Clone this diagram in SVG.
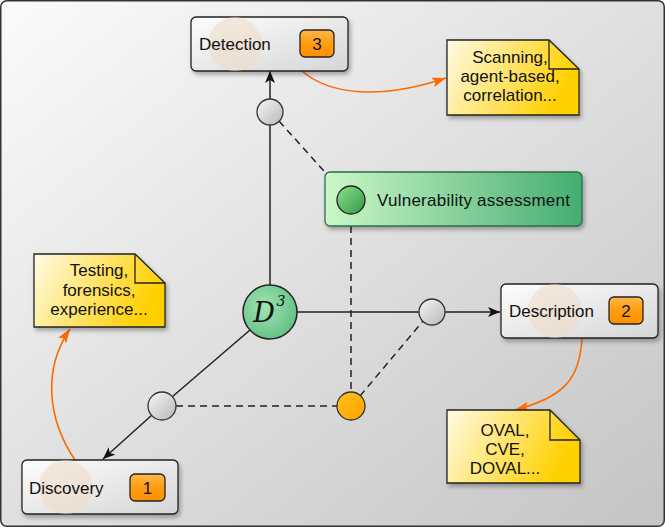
<svg xmlns="http://www.w3.org/2000/svg" width="665" height="527" viewBox="0 0 665 527">
<defs>
<linearGradient id="bg" x1="0" y1="0" x2="1" y2="1"><stop offset="0" stop-color="#fbfbfb"/><stop offset="1" stop-color="#c4c4c4"/></linearGradient>
<linearGradient id="box" x1="0" y1="0" x2="1" y2="1"><stop offset="0" stop-color="#fdfdfd"/><stop offset="1" stop-color="#d6d6d6"/></linearGradient>
<linearGradient id="note" x1="0" y1="0" x2="1" y2="0.3"><stop offset="0" stop-color="#fffbe6"/><stop offset="1" stop-color="#ffd000"/></linearGradient>
<linearGradient id="badge" x1="0" y1="0" x2="0" y2="1"><stop offset="0" stop-color="#ffb84a"/><stop offset="0.5" stop-color="#ff9c10"/><stop offset="1" stop-color="#ff9000"/></linearGradient>
<linearGradient id="va" x1="0" y1="0" x2="1" y2="0"><stop offset="0" stop-color="#ccf7c8"/><stop offset="1" stop-color="#45ad72"/></linearGradient>
<linearGradient id="gc" x1="0" y1="0" x2="1" y2="1"><stop offset="0" stop-color="#8fe08a"/><stop offset="1" stop-color="#2f9a45"/></linearGradient>
<linearGradient id="grey" x1="0" y1="0" x2="1" y2="1"><stop offset="0" stop-color="#f6f6f6"/><stop offset="1" stop-color="#b8b8b8"/></linearGradient>
<linearGradient id="orc" x1="0" y1="0" x2="1" y2="1"><stop offset="0" stop-color="#ffc21a"/><stop offset="1" stop-color="#ffa000"/></linearGradient>
<radialGradient id="d3" cx="0.4" cy="0.4" r="0.7"><stop offset="0" stop-color="#a2e2b2"/><stop offset="1" stop-color="#5cbf80"/></radialGradient>
<filter id="sh" x="-10%" y="-10%" width="130%" height="140%"><feDropShadow dx="2" dy="3" stdDeviation="2" flood-color="#000" flood-opacity="0.3"/></filter>
<marker id="ah" viewBox="0 0 12 10" refX="12" refY="5" markerWidth="12" markerHeight="10" markerUnits="userSpaceOnUse" orient="auto"><path d="M0,0 L12,5 L0,10 L3,5 Z" fill="#111"/></marker>
<marker id="oh" viewBox="0 0 14 10" refX="14" refY="5" markerWidth="14" markerHeight="10" markerUnits="userSpaceOnUse" orient="auto"><path d="M0,0 L14,5 L0,10 L3,5 Z" fill="#ff6a00"/></marker>
</defs>
<style>
.box{fill:url(#box);stroke:#222;stroke-width:1.3}
.note{fill:url(#note);stroke:#222;stroke-width:1.3}
.fold{fill:none;stroke:#222;stroke-width:1.3}
.badge{fill:url(#badge);stroke:#222;stroke-width:1.3}
.halo{fill:#f0d8c4;opacity:0.55}
.t{font-family:"Liberation Sans",Arial,sans-serif;font-size:17px;fill:#111}
.n{font-family:"Liberation Sans",Arial,sans-serif;font-size:17px;fill:#111;text-anchor:middle}
.bt{font-family:"Liberation Sans",Arial,sans-serif;font-size:17px;fill:#111;text-anchor:middle}
.ln{stroke:#222;stroke-width:1.5;fill:none}
.dash{stroke:#222;stroke-width:1.5;fill:none;stroke-dasharray:7,5}
.or{stroke:#ff6a00;stroke-width:1.6;fill:none}
.pt{stroke:#333;stroke-width:1.3}
</style>
<rect x="0.75" y="0.75" width="663.5" height="525.5" rx="6" fill="url(#bg)" stroke="#333" stroke-width="1.5"/>

<g id="connectors">
<line class="ln" x1="270" y1="285" x2="270" y2="125"/>
<line class="ln" x1="270" y1="99" x2="270" y2="71" marker-end="url(#ah)"/>
<line class="ln" x1="297" y1="312" x2="419" y2="312"/>
<line class="ln" x1="445" y1="312" x2="500" y2="312" marker-end="url(#ah)"/>
<line class="ln" x1="250" y1="330" x2="172" y2="397"/>
<line class="ln" x1="152" y1="415" x2="103" y2="459" marker-end="url(#ah)"/>
<line class="dash" x1="279" y1="121" x2="341" y2="190"/>
<line class="dash" x1="351" y1="214" x2="351" y2="392"/>
<line class="dash" x1="360" y1="396" x2="423" y2="321"/>
<line class="dash" x1="176" y1="406" x2="337" y2="406"/>
<path class="or" d="M302,71 C330,95 380,100 446,78" marker-end="url(#oh)"/>
<path class="or" d="M582,338 C580,378 565,397 515,410" marker-end="url(#oh)"/>
<path class="or" d="M75,460 C48,420 42,370 70,329" marker-end="url(#oh)"/>
</g>

<g id="detection">
<rect class="box" x="191" y="17" width="157" height="54" rx="5" filter="url(#sh)"/>
<circle class="halo" cx="235" cy="44" r="27"/>
<text class="t" x="199" y="50">Detection</text>
<rect class="badge" x="300" y="30" width="34" height="27" rx="5"/>
<text class="bt" x="317" y="50">3</text>
</g>

<g id="description">
<rect class="box" x="501" y="284" width="157" height="54" rx="5" filter="url(#sh)"/>
<circle class="halo" cx="555" cy="311" r="27"/>
<text class="t" x="509" y="317">Description</text>
<rect class="badge" x="609" y="297" width="34" height="27" rx="5"/>
<text class="bt" x="626" y="317">2</text>
</g>

<g id="discovery">
<rect class="box" x="22" y="460" width="156" height="54" rx="5" filter="url(#sh)"/>
<circle class="halo" cx="66" cy="487" r="27"/>
<text class="t" x="29" y="494">Discovery</text>
<rect class="badge" x="130" y="474" width="35" height="27" rx="5"/>
<text class="bt" x="147.5" y="494">1</text>
</g>

<g id="note-detection">
<path class="note" d="M447,40 L549,40 L579,69 L579,115 L447,115 Z" filter="url(#sh)"/>
<path class="fold" d="M549,40 L549,69 L579,69"/>
<text class="n" x="510" y="63">Scanning,</text>
<text class="n" x="510" y="82">agent-based,</text>
<text class="n" x="510" y="101">correlation...</text>
</g>

<g id="note-description">
<path class="note" d="M447,410 L550,410 L580,440 L580,483 L447,483 Z" filter="url(#sh)"/>
<path class="fold" d="M550,410 L550,440 L580,440"/>
<text class="n" x="505" y="436">OVAL,</text>
<text class="n" x="505" y="455">CVE,</text>
<text class="n" x="505" y="474">DOVAL...</text>
</g>

<g id="note-discovery">
<path class="note" d="M34,254 L135,254 L165,283 L165,327 L34,327 Z" filter="url(#sh)"/>
<path class="fold" d="M135,254 L135,283 L165,283"/>
<text class="n" x="99" y="276">Testing,</text>
<text class="n" x="99" y="296">forensics,</text>
<text class="n" x="99" y="315">experience...</text>
</g>

<g id="vulnerability-assessment">
<rect x="325" y="172" width="257" height="54" rx="5" fill="url(#va)" stroke="#2d6e45" stroke-width="1.3" filter="url(#sh)"/>
<circle cx="351" cy="200" r="14" fill="url(#gc)" stroke="#222" stroke-width="1.3"/>
<text class="t" x="377" y="206" textLength="193">Vulnerability assessment</text>
</g>

<g id="d3">
<circle cx="270" cy="312" r="27" fill="url(#d3)" stroke="#222" stroke-width="1.5"/>
<text x="264" y="322" font-family="'DejaVu Serif','Liberation Serif',serif" font-style="italic" font-size="27" fill="#111" text-anchor="middle">D</text>
<text x="281" y="306" font-family="'DejaVu Serif','Liberation Serif',serif" font-style="italic" font-size="14" fill="#111" text-anchor="middle">3</text>
</g>

<g id="point-top"><circle class="pt" cx="270" cy="112" r="13" fill="url(#grey)"/></g>
<g id="point-right"><circle class="pt" cx="432" cy="312" r="13" fill="url(#grey)"/></g>
<g id="point-left"><circle class="pt" cx="162" cy="406" r="14" fill="url(#grey)"/></g>
<g id="point-orange"><circle class="pt" cx="351" cy="406" r="14" fill="url(#orc)"/></g>
</svg>
